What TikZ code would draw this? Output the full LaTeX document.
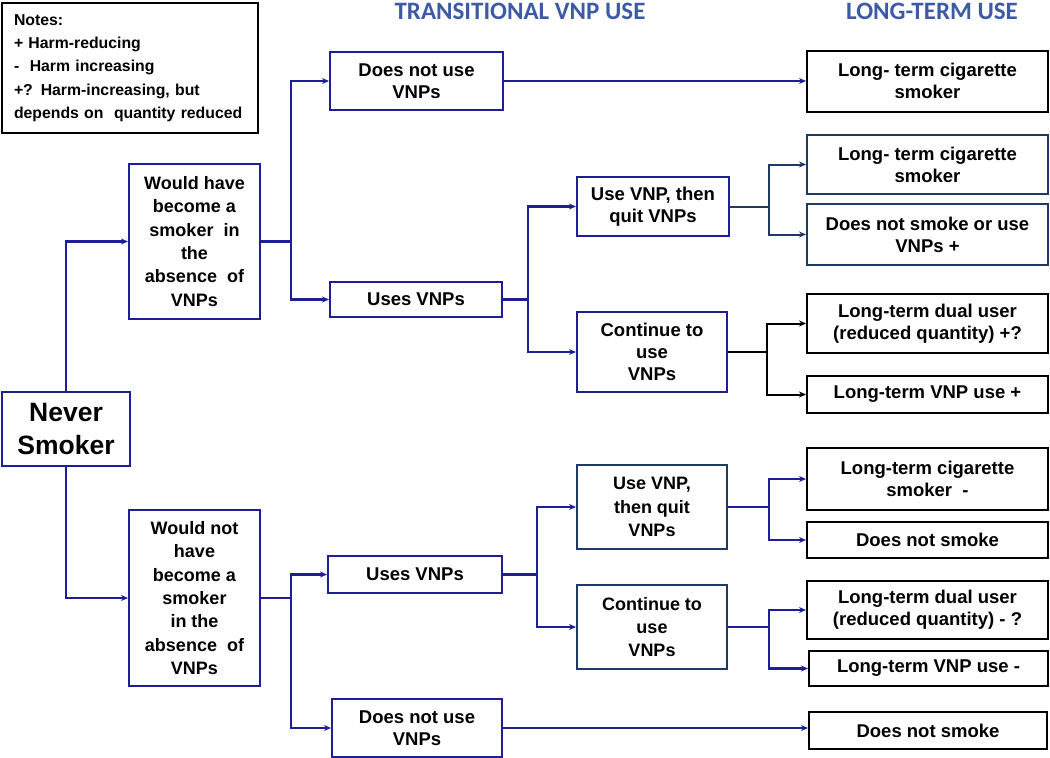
\documentclass[tikz,border=0pt]{standalone}
\usepackage{fontspec}
\setmainfont{Liberation Sans}
\newfontfamily\headfont{Carlito}
\usetikzlibrary{arrows.meta}
\definecolor{boxblue}{RGB}{30,30,150}
\definecolor{slate}{RGB}{31,56,100}
\definecolor{headblue}{RGB}{60,90,165}

\begin{document}
\begin{tikzpicture}[x=1pt,y=-1pt,
        box/.style={draw=boxblue,line width=2pt,align=center,inner sep=0pt,
          font=\bfseries\fontsize{18.5}{22}\selectfont},
        tall/.style={font=\bfseries\fontsize{18}{23.3}\selectfont},
        wire/.style={draw=boxblue,line width=2.4pt},
        conn/.style={wire,-{Stealth[length=7pt,width=6pt]}},
        head/.style={text=headblue,anchor=base,font=\headfont\bfseries\fontsize{25}{28}\selectfont}]
        \useasboundingbox (0,0) rectangle (1050,758);
        % headings
        \node[head] (hdtrans) at (520,19.5) {TRANSITIONAL VNP USE};
        \node[head] (hdlong) at (932,19.5) {LONG-TERM USE};
        % notes
        \node[box,draw=black,anchor=north west,align=left,text width=232pt,inner xsep=12pt,minimum height=130,
          font=\bfseries\fontsize{15.8}{23.3}\selectfont] (notes) at (1,2)
          {Notes:\\+ Harm-reducing\\-\ \ Harm increasing\\+? Harm-increasing, but\\depends on\ \ quantity reduced};
        % left column
        \node[box,font=\bfseries\fontsize{26.5}{33}\selectfont,minimum width=128,minimum height=74] (never) at (66,429) {Never\\Smoker};
        \node[box,tall,minimum width=131,minimum height=155] (would) at (194.5,241.5) {Would have\\become a\\smoker\ \ in\\the\\absence\ \ of\\VNPs};
        \node[box,tall,minimum width=131,minimum height=176] (wouldnot) at (194.5,598) {Would not\\have\\become a\\smoker\\in the\\absence\ \ of\\VNPs};
        % transitional use
        \node[box,minimum width=173,minimum height=58] (topno) at (416.5,81) {Does not use\\VNPs};
        \node[box,minimum width=172,minimum height=35] (topuse) at (416,299.5) {Uses VNPs};
        \node[box,minimum width=152,minimum height=59] (topquit) at (653,206.5) {Use VNP, then\\quit VNPs};
        \node[box,minimum width=150,minimum height=80] (topcont) at (652,352) {Continue to\\use\\VNPs};
        \node[box,minimum width=174,minimum height=37] (buse) at (415,574.5) {Uses VNPs};
        \node[box,minimum width=170,minimum height=58] (bno) at (417,728) {Does not use\\VNPs};
        \node[box,draw=slate,tall,minimum width=150,minimum height=84] (bquit) at (652,507) {Use VNP,\\then quit\\VNPs};
        \node[box,draw=slate,tall,minimum width=150,minimum height=84] (bcont) at (652,627) {Continue to\\use\\VNPs};
        % long-term use
        \node[box,draw=black,minimum width=241,minimum height=61] (topcig) at (927.5,81) {Long- term cigarette\\smoker};
        \node[box,draw=slate,minimum width=241,minimum height=59] (qcig) at (927.5,164.5) {Long- term cigarette\\smoker};
        \node[box,draw=slate,minimum width=241,minimum height=61] (qnone) at (927.5,234.5) {Does not smoke or use\\VNPs +};
        \node[box,draw=black,minimum width=241,minimum height=59] (cdual) at (927.5,323.5) {Long-term dual user\\(reduced quantity) +?};
        \node[box,draw=black,minimum width=241,minimum height=37] (cvnp) at (927.5,394.5) {Long-term VNP use +};
        \node[box,draw=black,minimum width=241,minimum height=62] (bcig) at (927.5,479) {Long-term cigarette\\smoker\ \ -};
        \node[box,draw=black,minimum width=241,minimum height=36] (bnone) at (927.5,540) {Does not smoke};
        \node[box,draw=black,minimum width=241,minimum height=58] (bdual) at (927.5,610) {Long-term dual user\\(reduced quantity) - ?};
        \node[box,draw=black,minimum width=239,minimum height=35] (bvnp) at (928.5,668.5) {Long-term VNP use -};
        \node[box,draw=black,minimum width=238,minimum height=37] (bend) at (928,730.5) {Does not smoke};
        % connectors
        \draw[conn] (never.north) |- (would.west);
        \draw[conn] (never.south) |- (wouldnot.west);
        \draw[wire] (would.east) -- ++(30,0) coordinate (jwould);
        \draw[conn] (jwould) |- (topno.west);
        \draw[conn] (jwould) |- (topuse.west);
        \draw[conn] (topno.east) -- (topcig.west);
        \draw[wire] (topuse.east) -- ++(25,0) coordinate (jtopuse);
        \draw[conn] (jtopuse) |- (topquit.west);
        \draw[conn] (jtopuse) |- (topcont.west);
        \draw[wire,draw=slate,line width=2pt] (topquit.east) -- ++(39,0) coordinate (jtopquit);
        \draw[conn,draw=slate,line width=2pt] (jtopquit) |- (qcig.west);
        \draw[conn,draw=slate,line width=2pt] (jtopquit) |- (qnone.west);
        \draw[wire,draw=black,line width=2pt] (topcont.east) -- ++(39,0) coordinate (jtopcont);
        \draw[conn,draw=black,line width=2pt] (jtopcont) |- (cdual.west);
        \draw[conn,draw=black,line width=2pt] (jtopcont) |- (cvnp.west);
        \draw[wire] (wouldnot.east) -- ++(30,0) coordinate (jwouldnot);
        \draw[conn] (jwouldnot) |- (buse.west);
        \draw[conn] (jwouldnot) |- (bno.west);
        \draw[wire] (buse.east) -- ++(34,0) coordinate (jbuse);
        \draw[conn] (jbuse) |- (bquit.west);
        \draw[conn] (jbuse) |- (bcont.west);
        \draw[wire] (bquit.east) -- ++(41,0) coordinate (jbquit);
        \draw[conn] (jbquit) |- (bcig.west);
        \draw[conn] (jbquit) |- (bnone.west);
        \draw[wire] (bcont.east) -- ++(41,0) coordinate (jbcont);
        \draw[conn] (jbcont) |- (bdual.west);
        \draw[conn] (jbcont) |- (bvnp.west);
        \draw[conn] (bno.east) -- (bno.east -| bend.west);
\end{tikzpicture}
\end{document}
